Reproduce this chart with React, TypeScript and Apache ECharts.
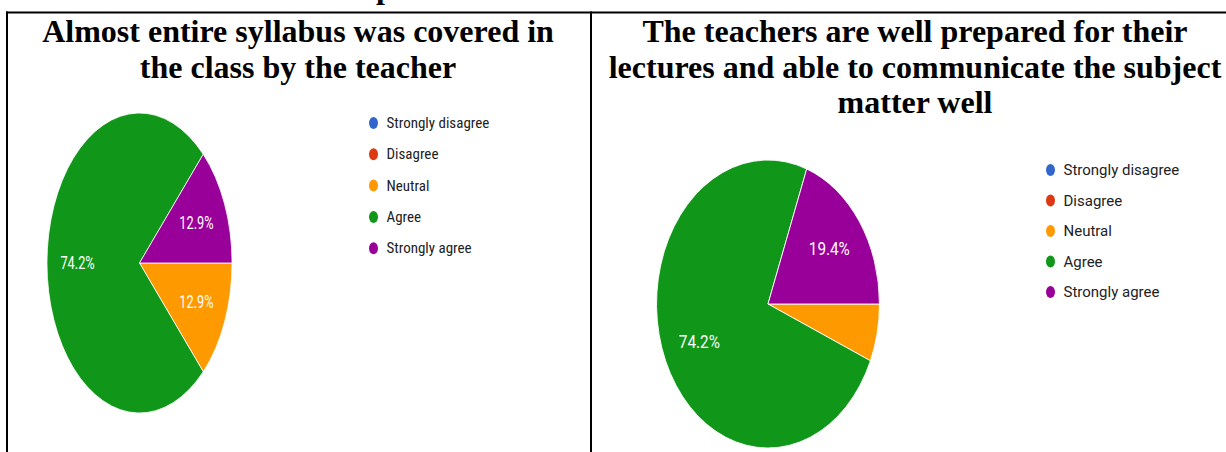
import React, { useEffect, useRef } from "react";
import * as echarts from "echarts";

// ---- data ----
const categories = ["Strongly disagree", "Disagree", "Neutral", "Agree", "Strongly agree"];
const sliceColors = ["#3366cc", "#dc3912", "#ff9900", "#109618", "#990099"];
// response counts (31 responses per question)
const syllabusCounts = [0, 0, 4, 23, 4];
const preparedCounts = [0, 0, 2, 23, 6];
const titleSyllabus = "Almost entire syllabus was covered in\nthe class by the teacher";
const titlePrepared =
  "The teachers are well prepared for their\nlectures and able to communicate the subject\nmatter well";

const pieCounts = [syllabusCounts, preparedCounts];

// ---- layout (not data) ----
const pieGeom = [
  { cx: 139.5, cy: 263, rx: 92.5, ry: 150, labelScaleX: 0.71 },
  { cx: 768, cy: 304, rx: 111.5, ry: 144, labelScaleX: 0.85 },
];
const serifFont = '"Liberation Serif", "Times New Roman", serif';
const ellipseIcon = "path://M4.5,0A4.5,6,0,1,1,4.5,12A4.5,6,0,1,1,4.5,0Z";

export default function App() {
  const ref = useRef<HTMLDivElement>(null);

  useEffect(() => {
    if (!ref.current) return;
    const chart = echarts.init(ref.current, undefined, { renderer: "svg" });

    const renderItem = (params: any, api: any) => {
      const k = params.seriesIndex;
      const j = params.dataIndex;
      const counts = pieCounts[j];
      const total = counts.reduce((a, b) => a + b, 0);
      const before = counts.slice(0, k).reduce((a, b) => a + b, 0);
      const v = api.value(0);
      if (!v) return { type: "group", children: [] };
      const start = (before / total) * Math.PI * 2;
      const end = ((before + v) / total) * Math.PI * 2;
      const mid = (start + end) / 2;
      const g = pieGeom[j];
      const children: any[] = [
        {
          type: "sector",
          x: g.cx,
          y: g.cy,
          scaleX: g.rx / g.ry,
          shape: { cx: 0, cy: 0, r: g.ry, r0: 0, startAngle: start, endAngle: end, clockwise: true },
          style: { fill: sliceColors[k], stroke: "#ffffff", lineWidth: 1, strokeNoScale: true },
        },
      ];
      if (v / total >= 0.1) {
        children.push({
          type: "text",
          x: g.cx + 0.67 * g.rx * Math.cos(mid),
          y: g.cy + 0.67 * g.ry * Math.sin(mid),
          scaleX: g.labelScaleX,
          style: {
            text: ((v / total) * 100).toFixed(1) + "%",
            fill: "#ffffff",
            fontFamily: "Roboto",
            fontSize: 18,
            align: "center",
            verticalAlign: "middle",
          },
        });
      }
      return { type: "group", children };
    };

    const series = categories.map((name, k) => ({
      type: "custom",
      name,
      coordinateSystem: "none",
      silent: true,
      itemStyle: { color: sliceColors[k] },
      data: [syllabusCounts[k], preparedCounts[k]],
      renderItem,
    }));

    const legendBase = {
      data: categories,
      orient: "vertical",
      padding: 0,
      itemWidth: 12,
      itemHeight: 12,
      icon: ellipseIcon,
      selectedMode: false,
    };

    chart.setOption({
      animation: false,
      backgroundColor: "#ffffff",
      legend: [
        {
          ...legendBase,
          left: 369,
          top: 115.5,
          itemGap: 16.3,
          textStyle: {
            fontFamily: "'Roboto Condensed', 'Liberation Sans Narrow', Roboto",
            fontSize: 15,
            color: "#222222",
            padding: [0, 0, 0, 2],
          },
        },
        {
          ...legendBase,
          left: 1046,
          top: 162.5,
          itemGap: 15.5,
          textStyle: {
            fontFamily: "Roboto",
            fontSize: 15,
            color: "#222222",
            padding: [0, 0, 0, 2],
          },
        },
      ],
      graphic: [
        { type: "rect", shape: { x: 6, y: 11.5, width: 1220, height: 2 }, style: { fill: "#000" } },
        { type: "rect", shape: { x: 6, y: 11.5, width: 2, height: 441 }, style: { fill: "#000" } },
        { type: "rect", shape: { x: 590, y: 11.5, width: 2, height: 441 }, style: { fill: "#000" } },
        {
          type: "text",
          x: 376,
          y: -12.8,
          style: {
            text: "p",
            fontFamily: serifFont,
            fontSize: 32,
            fontWeight: "bold",
            fill: "#000",
            align: "left",
            verticalAlign: "middle",
          },
        },
        {
          type: "text",
          x: 298,
          y: 13.5,
          style: {
            text: titleSyllabus,
            fontFamily: serifFont,
            fontSize: 32,
            fontWeight: "bold",
            lineHeight: 35.5,
            fill: "#000",
            align: "center",
            verticalAlign: "top",
          },
        },
        {
          type: "text",
          x: 915,
          y: 13.5,
          style: {
            text: titlePrepared,
            fontFamily: serifFont,
            fontSize: 32,
            fontWeight: "bold",
            lineHeight: 35.5,
            fill: "#000",
            align: "center",
            verticalAlign: "top",
          },
        },
      ],
      series,
    });

    return () => chart.dispose();
  }, []);

  return (
    <div
      ref={ref}
      style={{ position: "absolute", left: 0, top: 0, width: 1226, height: 452 }}
    />
  );
}
